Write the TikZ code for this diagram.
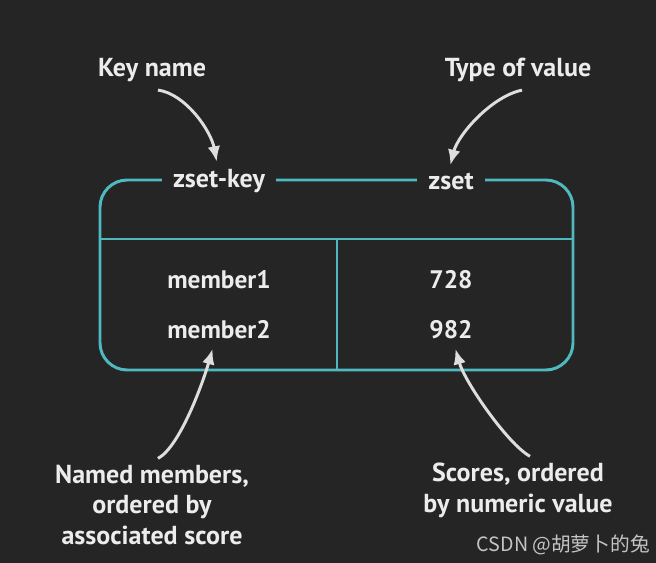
\documentclass[tikz,border=0pt]{standalone}
\usepackage{fontspec}
\setmainfont{PT Sans}
\newfontfamily\cjkfont{Noto Sans CJK SC}
\usepackage{xcolor}
\usetikzlibrary{arrows.meta, positioning, calc}
\definecolor{boardbg}{RGB}{37,37,38}
\definecolor{zteal}{RGB}{78,186,192}
\definecolor{zwhite}{RGB}{236,236,236}
\definecolor{callgray}{RGB}{222,222,222}
\definecolor{markgray}{RGB}{196,196,196}
\tikzset{
  label/.style={
    text=zwhite, font=\fontsize{18.5}{22}\selectfont\bfseries,
    inner sep=0pt, align=center
  },
  keylabel/.style={
    label, fill=boardbg, inner xsep=0.28cm, inner ysep=2pt
  },
  entry/.style={
    text=zwhite, font=\fontsize{18}{22}\selectfont\bfseries, inner sep=0pt
  },
  boxline/.style={draw=zteal, line width=2.1pt},
  callout/.style={-{Latex[length=11pt, width=9pt]}, line width=2.1pt,
    color=callgray, shorten >=1pt}
}

\begin{document}
\begin{tikzpicture}[x=0.025cm, y=-0.025cm]
  % Background
  \fill[boardbg] (0,0) rectangle (656,563);
  \useasboundingbox (0,0) rectangle (656,563);

  % Record box
  \draw[boxline, rounded corners=0.68cm] (100,180) rectangle (573,370);
  \draw[boxline] (100,239) -- (573,239);
  \draw[boxline] (337,239) -- (337,370);

  % Key and type on the top edge
  \node[keylabel] (zsetkey) at (219,181) {zset-key};
  \node[keylabel] (zset)    at (451,181) {zset};

  % Members and scores
  \node[entry] (member1) at (219,280) {member1};
  \node[entry] (member2) at (219,330) {member2};
  \node[entry] (score1)  at (451,280) {728};
  \node[entry] (score2)  at (451,330) {982};

  % Captions
  \node[label] (keyname)   at (152,70) {Key name};
  \node[label] (valuetype) at (518,70) {Type of value};
  \node[label] (members) at (152,505)
    {Named members,\\ordered by\\associated score};
  \node[label] (scores) at (518,490) {Scores, ordered\\by numeric value};

  % Callout arrows
  \draw[callout] ($(keyname.south)+(6,8)$)
    .. controls +(28,4) and +(-6,-32) .. ($(zsetkey.north)+(-2,-3)$);
  \draw[callout] ($(valuetype.south)+(4,8)$)
    .. controls +(-30,6) and +(8,-32) .. ($(zset.north)+(-1,-3)$);
  \draw[callout] ($(members.north)+(6,-6)$)
    .. controls +(22,-12) and +(-10,35) .. ($(member2.south)+(-6,8)$);
  \draw[callout] ($(scores.north)+(12,-6)$)
    .. controls +(-22,-12) and +(10,35) .. ($(score2.south)+(4,8)$);

  % Watermark
  \node[text=markgray, font=\cjkfont\fontsize{14}{16}\selectfont,
    anchor=east, inner sep=0pt] (mark) at (650,545) {CSDN @胡萝卜的兔};
\end{tikzpicture}
\end{document}
